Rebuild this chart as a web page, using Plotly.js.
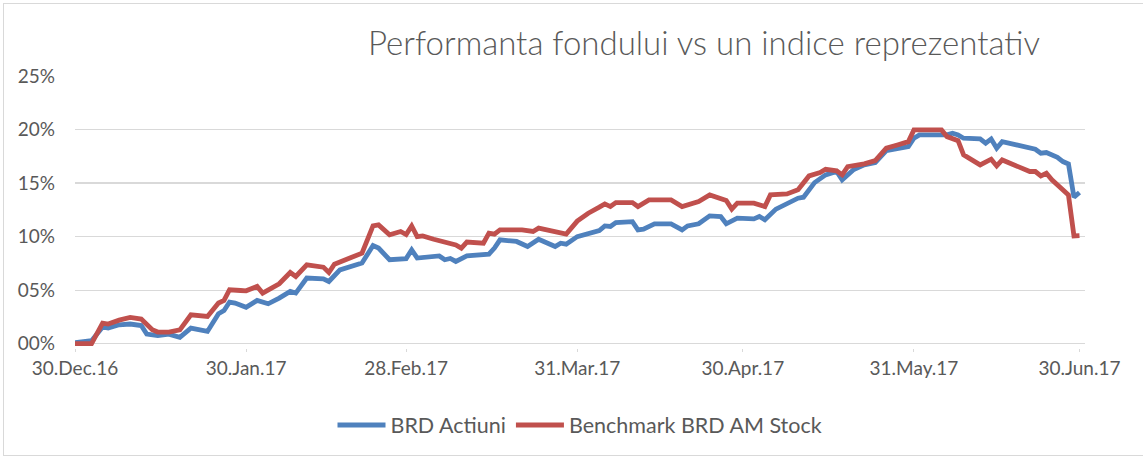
<!DOCTYPE html>
<html>
<head>
<meta charset="utf-8">
<script src="https://cdn.plot.ly/plotly-3.0.1.min.js"></script>
<style>
  html, body { margin: 0; padding: 0; background: #ffffff; }
  #chart { position: absolute; left: 0; top: 0; width: 1143px; height: 458px; }
  #frame { position: absolute; left: 3px; top: 3px; width: 1160px; height: 451px;
           border: 1px solid #D9D9D9; pointer-events: none; }
</style>
</head>
<body>
<div id="chart"></div>
<div id="frame"></div>
<script>
// ---- data (values in %) ----
const brdDates = [
  "2016-12-30","2017-01-02","2017-01-04","2017-01-05","2017-01-07","2017-01-09","2017-01-11","2017-01-12",
  "2017-01-14","2017-01-16","2017-01-18","2017-01-20","2017-01-23","2017-01-25","2017-01-26","2017-01-27",
  "2017-01-28","2017-01-30","2017-02-01","2017-02-03","2017-02-05","2017-02-07","2017-02-08","2017-02-10",
  "2017-02-13","2017-02-14","2017-02-16","2017-02-18","2017-02-20","2017-02-22","2017-02-23","2017-02-25",
  "2017-02-28","2017-03-01","2017-03-02","2017-03-06","2017-03-07","2017-03-08","2017-03-09","2017-03-11",
  "2017-03-14","2017-03-15","2017-03-16","2017-03-17","2017-03-20","2017-03-22","2017-03-24","2017-03-27",
  "2017-03-28","2017-03-29","2017-03-31","2017-04-02","2017-04-04","2017-04-05","2017-04-06","2017-04-07",
  "2017-04-10","2017-04-11","2017-04-12","2017-04-14","2017-04-17","2017-04-19","2017-04-20","2017-04-22",
  "2017-04-24","2017-04-26","2017-04-27","2017-04-29","2017-05-02","2017-05-03","2017-05-04","2017-05-06",
  "2017-05-08","2017-05-10","2017-05-11","2017-05-13","2017-05-15","2017-05-17","2017-05-18","2017-05-20",
  "2017-05-22","2017-05-24","2017-05-26","2017-05-30","2017-05-31","2017-06-01","2017-06-06","2017-06-07",
  "2017-06-08","2017-06-09","2017-06-12","2017-06-13","2017-06-14","2017-06-15","2017-06-16","2017-06-19",
  "2017-06-21","2017-06-22","2017-06-23","2017-06-24","2017-06-26","2017-06-27","2017-06-28","2017-06-29",
  "2017-06-30"
];
const brdValues = [
  0.1, 0.28, 1.56, 1.46, 1.77, 1.84, 1.7, 0.9,
  0.75, 0.9, 0.59, 1.46, 1.15, 2.8, 3.1, 3.89,
  3.8, 3.4, 4.04, 3.73, 4.26, 4.88, 4.73, 6.13,
  6.06, 5.81, 6.9, 7.2, 7.53, 9.17, 8.93, 7.84,
  7.95, 8.77, 8.0, 8.2, 7.84, 7.96, 7.68, 8.2,
  8.4, 8.37, 8.93, 9.7, 9.55, 9.08, 9.76, 9.08,
  9.39, 9.3, 10.0, 10.33, 10.57, 11.0, 10.95, 11.32,
  11.4, 10.63, 10.7, 11.2, 11.2, 10.63, 11.0, 11.2,
  11.94, 11.88, 11.2, 11.73, 11.66, 11.88, 11.57, 12.57,
  13.12, 13.59, 13.68, 15.04, 15.77, 16.08, 15.3, 16.23,
  16.7, 16.91, 18.03, 18.41, 19.19, 19.5, 19.5, 19.65,
  19.5, 19.19, 19.12, 18.72, 19.12, 18.26, 18.87, 18.47,
  18.26, 18.16, 17.79, 17.85, 17.41, 17.01, 16.79, 13.68,
  14.12
];
const benchDates = [
  "2016-12-30","2017-01-02","2017-01-04","2017-01-05","2017-01-07","2017-01-09","2017-01-11","2017-01-13",
  "2017-01-14","2017-01-16","2017-01-18","2017-01-20","2017-01-23","2017-01-25","2017-01-26","2017-01-27",
  "2017-01-29","2017-01-30","2017-02-01","2017-02-02","2017-02-05","2017-02-07","2017-02-08","2017-02-10",
  "2017-02-13","2017-02-14","2017-02-15","2017-02-18","2017-02-20","2017-02-22","2017-02-23","2017-02-25",
  "2017-02-27","2017-02-28","2017-03-01","2017-03-02","2017-03-03","2017-03-05","2017-03-08","2017-03-09",
  "2017-03-10","2017-03-11","2017-03-14","2017-03-15","2017-03-16","2017-03-17","2017-03-21","2017-03-23",
  "2017-03-24","2017-03-27","2017-03-29","2017-03-31","2017-04-02","2017-04-04","2017-04-05","2017-04-06",
  "2017-04-07","2017-04-10","2017-04-11","2017-04-13","2017-04-17","2017-04-19","2017-04-22","2017-04-24",
  "2017-04-27","2017-04-28","2017-04-29","2017-05-02","2017-05-04","2017-05-05","2017-05-08","2017-05-10",
  "2017-05-12","2017-05-14","2017-05-15","2017-05-17","2017-05-18","2017-05-19","2017-05-22","2017-05-24",
  "2017-05-26","2017-05-28","2017-05-30","2017-05-31","2017-06-05","2017-06-06","2017-06-08","2017-06-09",
  "2017-06-12","2017-06-14","2017-06-15","2017-06-16","2017-06-19","2017-06-21","2017-06-22","2017-06-23",
  "2017-06-24","2017-06-25","2017-06-28","2017-06-29","2017-06-30"
];
const benchValues = [
  0.0, 0.0, 1.93, 1.84, 2.2, 2.45, 2.3, 1.3,
  1.09, 1.09, 1.3, 2.7, 2.55, 3.8, 4.04, 5.04,
  4.97, 4.94, 5.35, 4.73, 5.6, 6.65, 6.28, 7.37,
  7.15, 6.65, 7.43, 8.0, 8.46, 11.0, 11.1, 10.17,
  10.48, 10.2, 11.0, 10.0, 10.07, 9.76, 9.3, 9.23,
  8.93, 9.49, 9.39, 10.33, 10.23, 10.63, 10.63, 10.48,
  10.79, 10.48, 10.23, 11.45, 12.19, 12.75, 13.06, 12.81,
  13.18, 13.18, 12.81, 13.43, 13.43, 12.81, 13.28, 13.9,
  13.37, 12.57, 13.12, 13.12, 12.81, 13.9, 13.99, 14.37,
  15.67, 15.98, 16.29, 16.14, 15.77, 16.54, 16.79, 17.1,
  18.26, 18.56, 18.87, 19.96, 19.96, 19.34, 18.96, 17.63,
  16.7, 17.23, 16.6, 17.16, 16.54, 16.08, 16.08, 15.67,
  15.92, 15.3, 13.9, 10.07, 10.1
];
const seriesNames = ["BRD Actiuni", "Benchmark BRD AM Stock"];
const xTickDates = ["2016-12-30","2017-01-30","2017-02-28","2017-03-31","2017-04-30","2017-05-31","2017-06-30"];
const xTickLabels = ["30.Dec.16","30.Jan.17","28.Feb.17","31.Mar.17","30.Apr.17","31.May.17","30.Jun.17"];
const yTickValues = [0, 5, 10, 15, 20, 25];
const yTickLabels = ["00%","05%","10%","15%","20%","25%"];
const chartTitle = "Performanta fondului vs un indice reprezentativ";

const FONT = "Lato, 'Open Sans', sans-serif";
const TXT = "#595959";
const GRID = "#D9D9D9";

const traces = [
  { x: brdDates, y: brdValues, name: seriesNames[0], type: "scatter", mode: "lines",
    line: { color: "#4F81BD", width: 4.8, shape: "linear" }, hoverinfo: "skip" },
  { x: benchDates, y: benchValues, name: seriesNames[1], type: "scatter", mode: "lines",
    line: { color: "#C0504D", width: 4.8, shape: "linear" }, hoverinfo: "skip" }
];

const layout = {
  width: 1143, height: 458,
  paper_bgcolor: "#ffffff", plot_bgcolor: "#ffffff",
  margin: { l: 75, r: 58, t: 76, b: 110, pad: 0 },
  font: { family: FONT, color: TXT, size: 19 },
  title: { text: chartTitle, x: 0.616, xref: "container", xanchor: "center",
           y: 0.905, yref: "container", yanchor: "middle",
           font: { family: FONT, size: 33, color: TXT, weight: 300 } },
  showlegend: true,
  legend: { orientation: "h", x: 0.5, xref: "paper", xanchor: "center",
            y: 0.072, yref: "container", yanchor: "middle", itemwidth: 48,
            font: { family: FONT, size: 21.5, color: TXT }, traceorder: "normal" },
  xaxis: {
    type: "date", range: ["2016-12-30", "2017-07-01"],
    tickmode: "array", tickvals: xTickDates, ticktext: xTickLabels,
    showgrid: false, zeroline: false, showline: false,
    ticks: "outside", ticklen: 3, tickcolor: GRID, tickwidth: 1,
    tickfont: { family: FONT, size: 19, color: TXT }, fixedrange: true
  },
  yaxis: {
    range: [-0.4, 25], tickmode: "array", tickvals: yTickValues, ticktext: yTickLabels,
    showgrid: true, gridcolor: GRID, gridwidth: 1.3,
    zeroline: true, zerolinecolor: GRID, zerolinewidth: 1.3,
    showline: false, ticks: "", ticklabelstandoff: 19,
    tickfont: { family: FONT, size: 19, color: TXT }, fixedrange: true
  }
};

Plotly.newPlot("chart", traces, layout, { staticPlot: true, displayModeBar: false });
</script>
</body>
</html>
